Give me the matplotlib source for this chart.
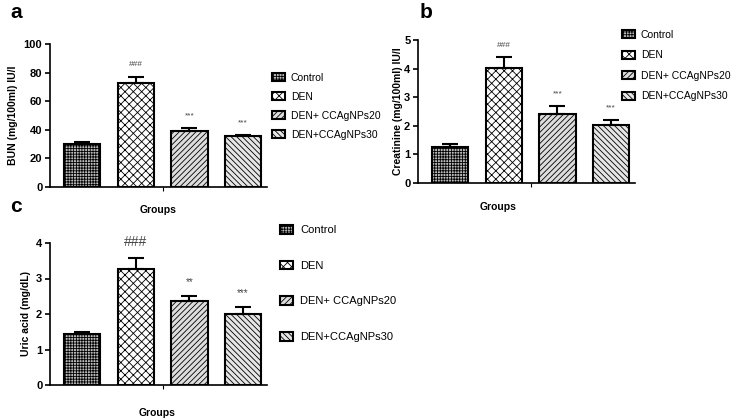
import matplotlib
matplotlib.use("Agg")
import matplotlib.pyplot as plt

groups = ["Control", "DEN", "DEN+ CCAgNPs20", "DEN+CCAgNPs30"]
bun = [30, 73, 39, 36]
bun_err = [1.5, 4, 2, 0.6]
bun_sig = ["", "###", "***", "***"]
creat = [1.27, 4.02, 2.4, 2.02]
creat_err = [0.1, 0.37, 0.3, 0.2]
creat_sig = ["", "###", "***", "***"]
uric = [1.45, 3.28, 2.38, 2.0]
uric_err = [0.05, 0.3, 0.13, 0.2]
uric_sig = ["", "###", "**", "***"]

hatches = ["++++++", "xxxx", "//////", "\\\\\\\\\\\\"]
faces = ["#bbbbbb", "white", "#dddddd", "#e6e6e6"]

W, H = 740, 420
fig = plt.figure(figsize=(7.4, 4.2), dpi=100)
plt.rcParams["font.family"] = "Liberation Sans"
plt.rcParams["hatch.linewidth"] = 0.6

def px(x0, y0, x1, y1):
    return [x0 / W, 1 - y1 / H, (x1 - x0) / W, (y1 - y0) / H]

def panel(rect, vals, errs, sigs, ymax, step, ylabel, letter, lpos, lspace, legend_names,
          sigsize, gx, gy, lfont, ypad):
    ax = fig.add_axes(px(*rect))
    xs = list(range(len(vals)))
    bars = ax.bar(xs, vals, width=0.68, color=faces, edgecolor="black", linewidth=1.5,
                  yerr=[[0]*len(errs), errs], capsize=6,
                  error_kw=dict(elinewidth=1.5, capthick=1.5))
    for b, h in zip(bars, hatches):
        b.set_hatch(h)
    for i, (x, v, e, s) in enumerate(zip(xs, vals, errs, sigs)):
        if s:
            size = sigsize[i] if isinstance(sigsize, list) else sigsize
            ax.text(x, v + e + ymax * 0.06, s, ha="center", va="bottom", fontsize=size, color="#444444")
    ax.set_xlim(-0.6, 3.45)
    ax.set_ylim(0, ymax)
    ax.set_yticks([i * step for i in range(int(ymax / step) + 1)])
    ax.set_xticks([1.5])
    ax.set_xticklabels([""])
    ax.tick_params(axis="x", length=3)
    ax.tick_params(axis="y", labelsize=8, width=1.2, pad=2)
    for t in ax.get_yticklabels():
        t.set_fontweight("bold")
    ax.spines["top"].set_visible(False)
    ax.spines["right"].set_visible(False)
    ax.spines["left"].set_linewidth(1.2)
    ax.spines["bottom"].set_linewidth(1.2)
    ax.set_ylabel(ylabel, fontsize=7.5, fontweight="bold", labelpad=ypad)
    fig.text(gx / W, 1 - gy / H, "Groups", ha="center", va="center", fontsize=7.5, fontweight="bold")
    fig.text(letter[0] / W, 1 - letter[1] / H, letter[2], ha="left", va="center", fontsize=15, fontweight="bold")
    fig.legend(bars, legend_names, loc="upper left", bbox_to_anchor=(lpos[0] / W, 1 - lpos[1] / H),
               frameon=False, fontsize=lfont, labelspacing=lspace, handlelength=1.2, handleheight=0.8,
               handletextpad=0.6, borderaxespad=0, borderpad=0)

panel((50, 44, 267, 187), bun, bun_err, bun_sig, 100, 20, "BUN (mg/100ml) IU/l",
      (10, 12, "a"), (272, 73), 0.85, groups, 6, 158, 210, 7.5, 4)
panel((418, 40, 635, 183), creat, creat_err, creat_sig, 5, 1, "Creatinine (mg/100ml) IU/l",
      (622, 30), 0.0 if False else (622, 30), 0, groups, 6, 498, 207, 7.5, 1) if False else None
panel((418, 40, 635, 183), creat, creat_err, creat_sig, 5, 1, "Creatinine (mg/100ml) IU/l",
      (420, 12, "b"), (622, 30), 1.0, groups, 6, 498, 207, 7.5, 1)
panel((50, 243, 267, 385), uric, uric_err, uric_sig, 4, 1, "Uric acid (mg/dL)",
      (10, 207, "c"), (280, 225), 2.3, groups, [0, 10, 7, 7], 157, 413, 8, 4)
fig.savefig("out.png", dpi=100)
